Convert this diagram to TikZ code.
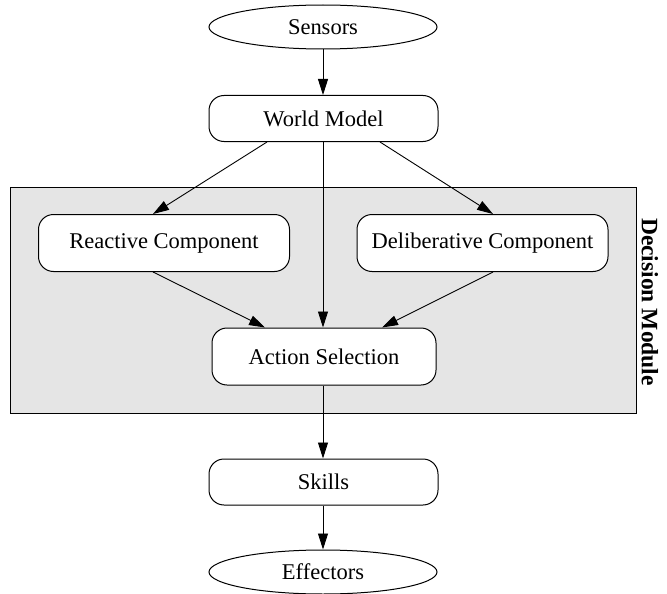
\documentclass[tikz,border=0pt]{standalone}
\usepackage{fontspec}
\setmainfont{Liberation Serif}
\usetikzlibrary{arrows.meta,shapes.geometric,calc}
\definecolor{modulegray}{RGB}{229,229,229}
\begin{document}
\begin{tikzpicture}[x=1pt,y=-1pt,
  every node/.style={font=\fontsize{22.5}{27}\selectfont, inner sep=0pt},
  procbox/.style={draw, line width=1pt, fill=white, rounded corners=15pt,
    minimum height=57pt},
  io/.style={draw, line width=1pt, fill=white, ellipse,
    minimum width=228pt, minimum height=44pt},
  flow/.style={line width=0.9pt, -{Triangle[length=16pt,width=10pt]}}]
  \useasboundingbox (0,0) rectangle (667,594);

  % decision module background
  \node[draw, line width=1pt, fill=modulegray, minimum width=626pt,
        minimum height=226pt] (dm) at (323,300) {};
  \node[rotate=-90, font=\fontsize{23.5}{28}\selectfont\bfseries]
        (dmlabel) at (650,302) {Decision Module};

  % nodes
  \node[io] (sens) at (323,27) {Sensors};
  \node[procbox, minimum width=229pt, minimum height=46pt] (wm) at (323.5,118.5) {World Model};
  \node[procbox, minimum width=251pt] (rc) at (164,243) {Reactive Component};
  \node[procbox, minimum width=251pt] (dc) at (482.5,243) {Deliberative Component};
  \node[procbox, minimum width=224pt] (as) at (324,356.5) {Action Selection};
  \node[procbox, minimum width=229pt, minimum height=46pt] (sk) at (323.5,482) {Skills};
  \node[io] (eff) at (323,572) {Effectors};

  % connectors
  \draw[flow] (sens.south) -- (sens.south |- wm.north);
  \draw[flow] ($(wm.south)+(-56.5,0)$) -- ($(rc.north)+(-11,0)$);
  \draw[flow] ($(wm.south)+(56.5,0)$) -- ($(dc.north)+(10.5,0)$);
  \draw[flow] ($(wm.south)+(-0.5,0)$) -- ($(as.north)+(-1,0)$);
  \draw[flow] ($(rc.south)+(-11,0)$) -- ($(as.north)+(-59,0)$);
  \draw[flow] ($(dc.south)+(10.5,0)$) -- ($(as.north)+(58,0)$);
  \draw[flow] ($(as.south)+(-1,0)$) -- ($(sk.north)+(-0.5,0)$);
  \draw[flow] ($(sk.south)+(-0.5,0)$) -- (eff.north);
\end{tikzpicture}
\end{document}
